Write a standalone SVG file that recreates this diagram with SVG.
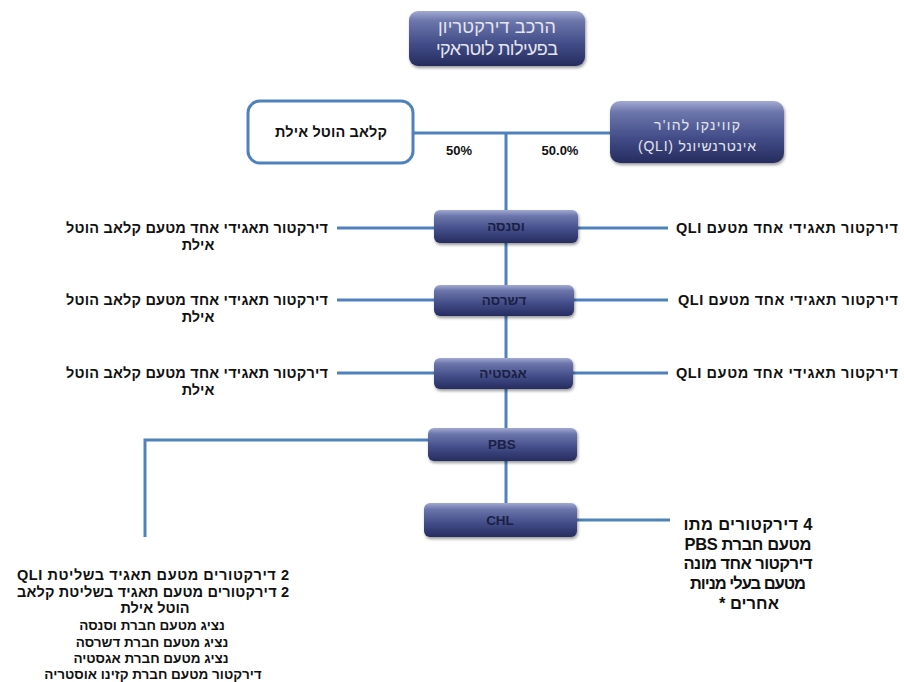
<svg xmlns="http://www.w3.org/2000/svg" width="904" height="682" viewBox="0 0 904 682">
<style>
text{font-family:"Liberation Sans","DejaVu Sans",Arial,sans-serif;font-weight:bold;direction:rtl;}
.lbl{font-size:14.5px;fill:#111;text-anchor:middle;}
.sm{font-size:13.5px;}
.big{font-size:16.5px;fill:#111;text-anchor:middle;}
.nodeT{font-size:13.5px;fill:#1b2044;text-anchor:middle;}
.lightT{font-size:18px;fill:#e4e6ef;text-anchor:middle;font-weight:normal;}
.lightS{font-size:14px;fill:#e4e6ef;text-anchor:middle;font-weight:normal;}
.pct{font-size:13px;fill:#111;text-anchor:middle;direction:ltr;}
.conn{stroke:#4f81bd;stroke-width:3;fill:none;}
.dark{fill:url(#g);filter:url(#sh);}
</style>
<defs>
<linearGradient id="g" x1="0" y1="0" x2="0" y2="1">
<stop offset="0" stop-color="#a2a9d2"/>
<stop offset="0.18" stop-color="#6c76ab"/>
<stop offset="0.6" stop-color="#424c88"/>
<stop offset="1" stop-color="#262c5e"/>
</linearGradient>
<filter id="sh" x="-10%" y="-20%" width="120%" height="150%">
<feDropShadow dx="1" dy="2" stdDeviation="1.5" flood-color="#000" flood-opacity="0.4"/>
</filter>
</defs>
<rect width="904" height="682" fill="#fff"/>
<g id="connectors">
<path class="conn" d="M413 133H610"/>
<path class="conn" d="M506 133V503"/>
<path class="conn" d="M337 228H434M578 228H668"/>
<path class="conn" d="M337 300H434M574 300H668"/>
<path class="conn" d="M337 373H434M573 373H668"/>
<path class="conn" d="M428 440H145V537"/>
<path class="conn" d="M577 520H670"/>
</g>
<g id="title">
<rect class="dark" x="409" y="11" width="176" height="55" rx="9"/>
<text class="lightT" x="497" y="33" textLength="118" lengthAdjust="spacing">הרכב דירקטריון</text>
<text class="lightT" x="497" y="55" textLength="122" lengthAdjust="spacing">בפעילות לוטראקי</text>
</g>
<g id="club-hotel">
<rect x="248" y="101" width="165" height="62" rx="12" fill="#fff" stroke="#4f81bd" stroke-width="3"/>
<text class="big" style="font-size:14.5px" x="331" y="137" textLength="112" lengthAdjust="spacing">קלאב הוטל אילת</text>
</g>
<g id="qli">
<rect class="dark" x="610" y="101" width="174" height="62" rx="10"/>
<text class="lightS" x="697" y="130" textLength="86" lengthAdjust="spacing">קווינקו להו'ר</text>
<text class="lightS" x="697" y="151" textLength="118" lengthAdjust="spacing">אינטרנשיונל (QLI)</text>
</g>
<g id="pcts">
<text class="pct" x="459" y="155">50%</text>
<text class="pct" x="560" y="155">50.0%</text>
</g>
<g id="vesnosa">
<rect class="dark" x="434" y="210" width="144" height="33" rx="6"/>
<text class="nodeT" x="506" y="231">וסנסה</text>
</g>
<g id="dashrusa">
<rect class="dark" x="434" y="285" width="140" height="31" rx="6"/>
<text class="nodeT" x="504" y="305">דשרסה</text>
</g>
<g id="agastia">
<rect class="dark" x="434" y="358" width="139" height="31" rx="6"/>
<text class="nodeT" x="503" y="378">אגסטיה</text>
</g>
<g id="pbs">
<rect class="dark" x="428" y="428" width="149" height="33" rx="6"/>
<text class="nodeT" x="502" y="449" style="direction:ltr">PBS</text>
</g>
<g id="chl">
<rect class="dark" x="424" y="503" width="153" height="34" rx="6"/>
<text class="nodeT" x="500" y="525" style="direction:ltr">CHL</text>
</g>
<g id="labels-left">
<text class="lbl" x="197" y="233" textLength="262" lengthAdjust="spacing">דירקטור תאגידי אחד מטעם קלאב הוטל</text>
<text class="lbl" x="198" y="250">אילת</text>
<text class="lbl" x="197" y="305" textLength="262" lengthAdjust="spacing">דירקטור תאגידי אחד מטעם קלאב הוטל</text>
<text class="lbl" x="198" y="322">אילת</text>
<text class="lbl" x="197" y="378" textLength="262" lengthAdjust="spacing">דירקטור תאגידי אחד מטעם קלאב הוטל</text>
<text class="lbl" x="198" y="395">אילת</text>
</g>
<g id="labels-right">
<text class="lbl" x="787" y="233" textLength="222" lengthAdjust="spacing">דירקטור תאגידי אחד מטעם QLI</text>
<text class="lbl" x="788" y="305" textLength="220" lengthAdjust="spacing">דירקטור תאגידי אחד מטעם QLI</text>
<text class="lbl" x="787" y="378" textLength="222" lengthAdjust="spacing">דירקטור תאגידי אחד מטעם  QLI</text>
</g>
<g id="chl-note">
<text class="big" x="748" y="530" textLength="129" lengthAdjust="spacing">4 דירקטורים מתו</text>
<text class="big" x="748" y="550" textLength="127" lengthAdjust="spacing">מטעם חברת PBS</text>
<text class="big" x="748" y="569" textLength="129" lengthAdjust="spacing">דירקטור אחד מונה</text>
<text class="big" x="748" y="589" textLength="116" lengthAdjust="spacing">מטעם בעלי מניות</text>
<text class="big" x="749" y="609">אחרים *</text>
</g>
<g id="pbs-note">
<text class="lbl" x="153" y="580" textLength="272" lengthAdjust="spacing">2 דירקטורים  מטעם תאגיד בשליטת QLI</text>
<text class="lbl" x="153" y="597" textLength="272" lengthAdjust="spacing">2 דירקטורים  מטעם תאגיד בשליטת קלאב</text>
<text class="lbl" x="155" y="613">הוטל אילת</text>
<text class="lbl sm" x="152" y="630">נציג מטעם חברת וסנסה</text>
<text class="lbl sm" x="152" y="647">נציג מטעם חברת דשרסה</text>
<text class="lbl sm" x="151" y="663">נציג מטעם חברת אגסטיה</text>
<text class="lbl sm" x="153" y="679">דירקטור מטעם חברת קזינו אוסטריה</text>
</g>
</svg>
